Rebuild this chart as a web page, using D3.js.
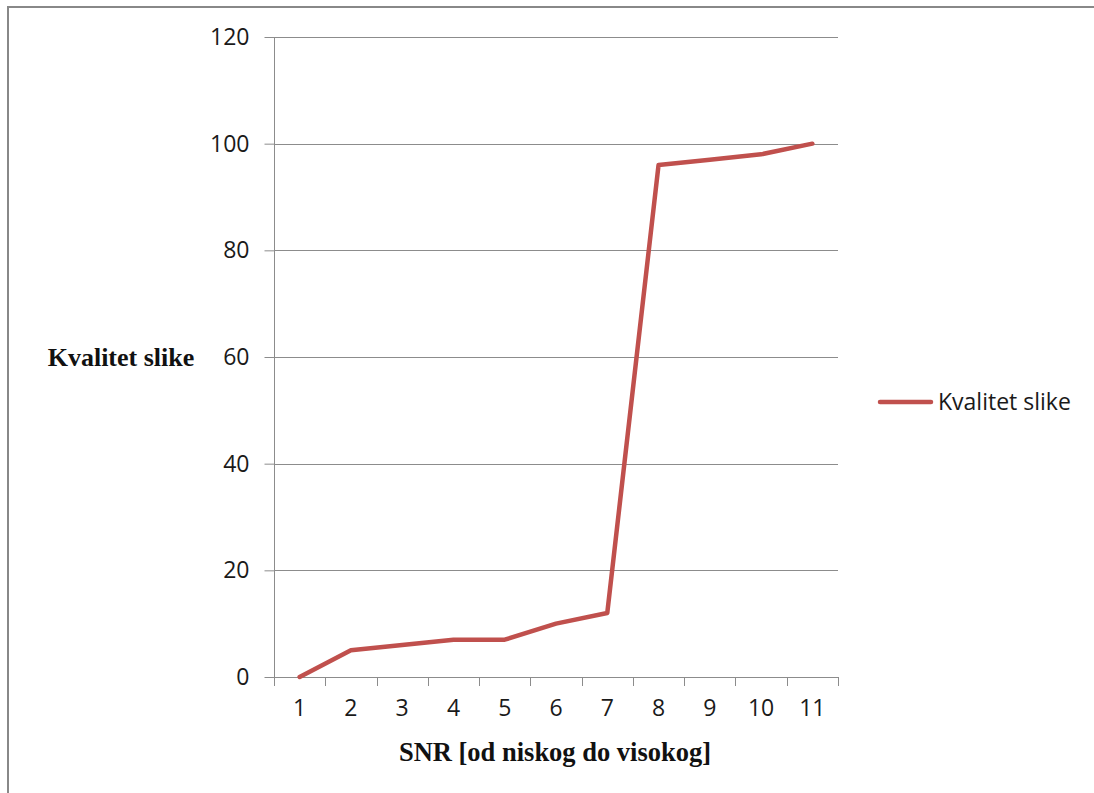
<!DOCTYPE html>
<html><head><meta charset="utf-8">
<script src="https://cdn.jsdelivr.net/npm/d3@7"></script>
<style>html,body{margin:0;padding:0;background:#fff;}svg{display:block;}</style>
</head><body>
<svg id="c" width="1094" height="793"></svg>
<script>
const categories = ["1","2","3","4","5","6","7","8","9","10","11"];
const values = [0, 5, 6, 7, 7, 10, 12, 96, 97, 98, 100];
const yTicks = [0, 20, 40, 60, 80, 100, 120];
const seriesName = "Kvalitet slike";
const xTitle = "SNR [od niskog do visokog]";
const yTitle = "Kvalitet slike";

(function () {
const svg = d3.select("#c");
const W = 1094, H = 793;
const pLeft = 274, pRight = 838, pTop = 37, pBottom = 677;
const lineColor = "#C0504D";
const tickFont = "'Open Sans', 'Noto Sans', sans-serif";

// outer border
svg.append("line").attr("x1", 8).attr("x2", 8).attr("y1", 6).attr("y2", H).attr("stroke", "#888").attr("stroke-width", 2);
svg.append("line").attr("x1", 7).attr("x2", W).attr("y1", 7).attr("y2", 7).attr("stroke", "#888").attr("stroke-width", 2);

const x = d3.scaleBand().domain(categories).range([pLeft, pRight]).padding(0);
const y = d3.scaleLinear().domain([0, 120]).range([pBottom, pTop]);

// gridlines
svg.append("g").selectAll("line").data(yTicks.filter(d => d > 0)).join("line")
  .attr("x1", pLeft).attr("x2", pRight)
  .attr("y1", d => Math.round(y(d)) + 0.5).attr("y2", d => Math.round(y(d)) + 0.5)
  .attr("stroke", "#8c8c8c").attr("stroke-width", 1);

// y axis
const yAxis = svg.append("g").attr("transform", `translate(${pLeft + 0.5},0)`)
  .call(d3.axisLeft(y).tickValues(yTicks).tickSize(10).tickPadding(15).tickFormat(d3.format("d")));
yAxis.select(".domain").attr("stroke", "#8c8c8c").attr("d", `M0,${pTop}V${pBottom}`);
yAxis.selectAll(".tick line").attr("stroke", "#8c8c8c");
yAxis.selectAll(".tick text").attr("font-family", tickFont).attr("font-size", 23).attr("fill", "#1a1a1a");

// x axis
const xAxis = svg.append("g").attr("transform", `translate(0,${pBottom + 0.5})`)
  .call(d3.axisBottom(x).tickSize(0).tickPadding(22));
xAxis.select(".domain").attr("stroke", "#8c8c8c").attr("d", `M${pLeft},0H${pRight}`);
xAxis.selectAll(".tick text").attr("font-family", tickFont).attr("font-size", 23).attr("fill", "#1a1a1a");
// boundary ticks
const bounds = categories.map(c => x(c)).concat([x(categories[categories.length - 1]) + x.bandwidth()]);
svg.append("g").selectAll("line").data(bounds).join("line")
  .attr("x1", d => Math.round(d) + 0.5).attr("x2", d => Math.round(d) + 0.5)
  .attr("y1", pBottom).attr("y2", pBottom + 9)
  .attr("stroke", "#8c8c8c").attr("stroke-width", 1);

// series line
const line = d3.line().x((d, i) => x(categories[i]) + x.bandwidth() / 2).y(d => y(d));
svg.append("path").datum(values).attr("d", line)
  .attr("fill", "none").attr("stroke", lineColor).attr("stroke-width", 4.5)
  .attr("stroke-linejoin", "round").attr("stroke-linecap", "round");

// axis titles
svg.append("text").attr("x", 121).attr("y", 366).attr("text-anchor", "middle")
  .attr("font-family", "'Liberation Serif', serif").attr("font-weight", "bold").attr("font-size", 26)
  .attr("fill", "#111").text(yTitle);
svg.append("text").attr("x", 555).attr("y", 761).attr("text-anchor", "middle")
  .attr("font-family", "'Liberation Serif', serif").attr("font-weight", "bold").attr("font-size", 26.5)
  .attr("fill", "#111").text(xTitle);

// legend
const lg = svg.append("g");
lg.append("line").attr("x1", 880).attr("x2", 931).attr("y1", 402).attr("y2", 402)
  .attr("stroke", lineColor).attr("stroke-width", 4.5).attr("stroke-linecap", "round");
lg.append("text").attr("x", 938).attr("y", 410).attr("font-family", tickFont).attr("font-size", 23)
  .attr("fill", "#1a1a1a").text(seriesName);
})();
</script>
</body></html>
